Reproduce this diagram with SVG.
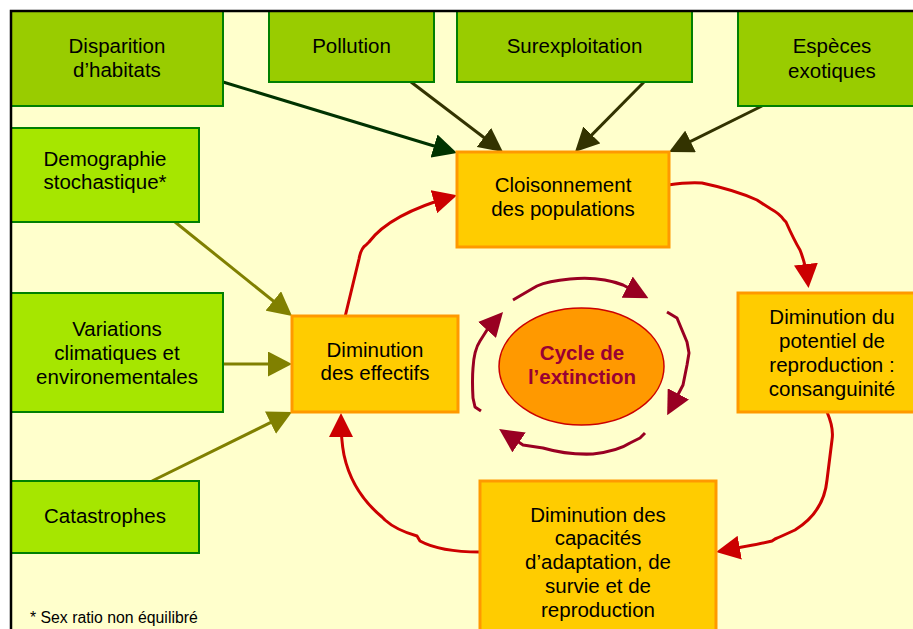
<svg xmlns="http://www.w3.org/2000/svg" width="913" height="629" viewBox="0 0 913 629">
<defs>
<style>
.t{font-family:"Liberation Sans",Arial,sans-serif;font-size:20.5px;text-anchor:middle;fill:#000}
.g1{fill:#99CC00;stroke:#008000;stroke-width:2}
.g2{fill:#A6E600;stroke:#008000;stroke-width:2}
.o{fill:#FFCC00;stroke:#FF9900;stroke-width:3}
.c{fill:none;stroke-width:3;stroke-linejoin:round;stroke-linecap:butt}
</style>
<marker id="mG" markerUnits="userSpaceOnUse" markerWidth="24" markerHeight="24" refX="19" refY="12" orient="auto"><path d="M0,0 L24,12 L0,24 Z" fill="#003300"/></marker>
<marker id="mD" markerUnits="userSpaceOnUse" markerWidth="24" markerHeight="24" refX="19" refY="12" orient="auto"><path d="M0,0 L24,12 L0,24 Z" fill="#333300"/></marker>
<marker id="mO" markerUnits="userSpaceOnUse" markerWidth="24" markerHeight="25" refX="19" refY="12.5" orient="auto"><path d="M0,0 L24,12.5 L0,25 Z" fill="#808000"/></marker>
<marker id="mR" markerUnits="userSpaceOnUse" markerWidth="24" markerHeight="24" refX="19" refY="12" orient="auto"><path d="M0,0 L24,12 L0,24 Z" fill="#CC0000"/></marker>
<marker id="mM" markerUnits="userSpaceOnUse" markerWidth="24" markerHeight="24" refX="19" refY="12" orient="auto"><path d="M0,0 L24,12 L0,24 Z" fill="#990022"/></marker>
</defs>
<rect x="0" y="0" width="913" height="629" fill="#FFFFFF"/>
<rect x="11" y="11" width="910" height="630" fill="#FFFFCC"/>

<g id="connectors">
<line class="c" x1="223" y1="82" x2="452.2" y2="151.5" stroke="#003300" marker-end="url(#mG)"/>
<line class="c" x1="411" y1="82" x2="499" y2="149" stroke="#333300" marker-end="url(#mD)"/>
<line class="c" x1="644" y1="82" x2="578.5" y2="148.4" stroke="#333300" marker-end="url(#mD)"/>
<line class="c" x1="762" y1="106" x2="673.5" y2="149.8" stroke="#333300" marker-end="url(#mD)"/>
<line class="c" x1="175" y1="222" x2="288.1" y2="312.9" stroke="#808000" marker-end="url(#mO)"/>
<line class="c" x1="223" y1="364" x2="287" y2="364" stroke="#808000" marker-end="url(#mO)"/>
<line class="c" x1="152" y1="481" x2="287.5" y2="414.2" stroke="#808000" marker-end="url(#mO)"/>

<path class="c" stroke="#CC0000" marker-end="url(#mR)" d="M345,317 L359,259 Q361,248 366,245 L369,242 Q390,214 452.2,196.5"/>
<path class="c" stroke="#CC0000" marker-end="url(#mR)" d="M668,185 Q688,182 702,183 Q735,190 757,200 Q766,206 771,209 Q780,214 784,220 L786,222 Q794,240 800,250 Q806,265 808,283"/>
<path class="c" stroke="#CC0000" marker-end="url(#mR)" d="M827,412 Q834,428 832,440 L827,480 Q824,512 795,530 Q782,536 775,539 L772,541 Q760,544 721,551"/>
<path class="c" stroke="#CC0000" marker-end="url(#mR)" d="M480,552 Q440,552 420,541 L417,536 Q396,530 385,520 L382,517 Q352,492 344,455 Q341,440 341,418"/>

<path class="c" stroke="#990022" marker-end="url(#mM)" d="M513,300 Q530,290 537,286 Q548,281 570,279 Q600,276 623,285 L644,296"/>
<path class="c" stroke="#990022" marker-end="url(#mM)" d="M667,312 L677,318 L682,330 L687,342 L689,353 L687,365 L683,385 L669.5,410.7"/>
<path class="c" stroke="#990022" marker-end="url(#mM)" d="M645,433 L640,438 L630,443 Q618,451 593,454 Q567,455 543,448 L523,445 L503.3,431.8"/>
<path class="c" stroke="#990022" marker-end="url(#mM)" d="M481,411 L475,407 L473,398 Q472,380 473,368 Q474,350 480,341 L487,330 L499.7,315.8"/>
</g>

<g id="n1"><rect class="g1" x="11" y="11" width="212" height="95"/><text class="t" x="117" y="53">Disparition</text><text class="t" x="117" y="77">d’habitats</text></g>
<g id="n2"><rect class="g1" x="269" y="11" width="165" height="71"/><text class="t" x="351.5" y="53">Pollution</text></g>
<g id="n3"><rect class="g1" x="457" y="11" width="235" height="71"/><text class="t" x="574.5" y="53">Surexploitation</text></g>
<g id="n4"><rect class="g1" x="738" y="11" width="190" height="95"/><text class="t" x="832" y="53">Espèces</text><text class="t" x="832" y="78">exotiques</text></g>
<g id="n5"><rect class="g2" x="11" y="128" width="188" height="94"/><text class="t" x="105" y="166">Demographie</text><text class="t" x="105" y="189">stochastique*</text></g>
<g id="n6"><rect class="g2" x="11" y="293" width="212" height="119"/><text class="t" x="117" y="336">Variations</text><text class="t" x="117" y="360">climatiques et</text><text class="t" x="117" y="384">environementales</text></g>
<g id="n7"><rect class="g2" x="11" y="481" width="188" height="72"/><text class="t" x="105" y="523">Catastrophes</text></g>
<g id="n8"><rect class="o" x="457" y="152" width="212" height="95"/><text class="t" x="563" y="192">Cloisonnement</text><text class="t" x="563" y="216">des populations</text></g>
<g id="n9"><rect class="o" x="292" y="316" width="166" height="96"/><text class="t" x="375" y="357">Diminution</text><text class="t" x="375" y="380">des effectifs</text></g>
<g id="n10"><rect class="o" x="738" y="293" width="190" height="119"/><text class="t" x="832" y="324">Diminution du</text><text class="t" x="832" y="348">potentiel de</text><text class="t" x="832" y="372">reproduction :</text><text class="t" x="832" y="396">consanguinité</text></g>
<g id="n11"><rect class="o" x="480" y="481" width="236" height="160"/><text class="t" x="598" y="522">Diminution des</text><text class="t" x="598" y="545">capacités</text><text class="t" x="598" y="569">d’adaptation, de</text><text class="t" x="598" y="593">survie et de</text><text class="t" x="598" y="617">reproduction</text></g>
<g id="n12"><ellipse cx="581.5" cy="366.5" rx="82.5" ry="58.5" fill="#FF9900" stroke="#CC0000" stroke-width="1.5"/><text class="t" x="582" y="360" style="font-weight:bold;fill:#990033">Cycle de</text><text class="t" x="582" y="384" style="font-weight:bold;fill:#990033">l’extinction</text></g>

<text x="30" y="623" style="font-family:'Liberation Sans',Arial,sans-serif;font-size:15.8px;fill:#000">* Sex ratio non équilibré</text>

<path d="M11,629 L11,11 L913,11" fill="none" stroke="#000" stroke-width="2.5"/>
</svg>
